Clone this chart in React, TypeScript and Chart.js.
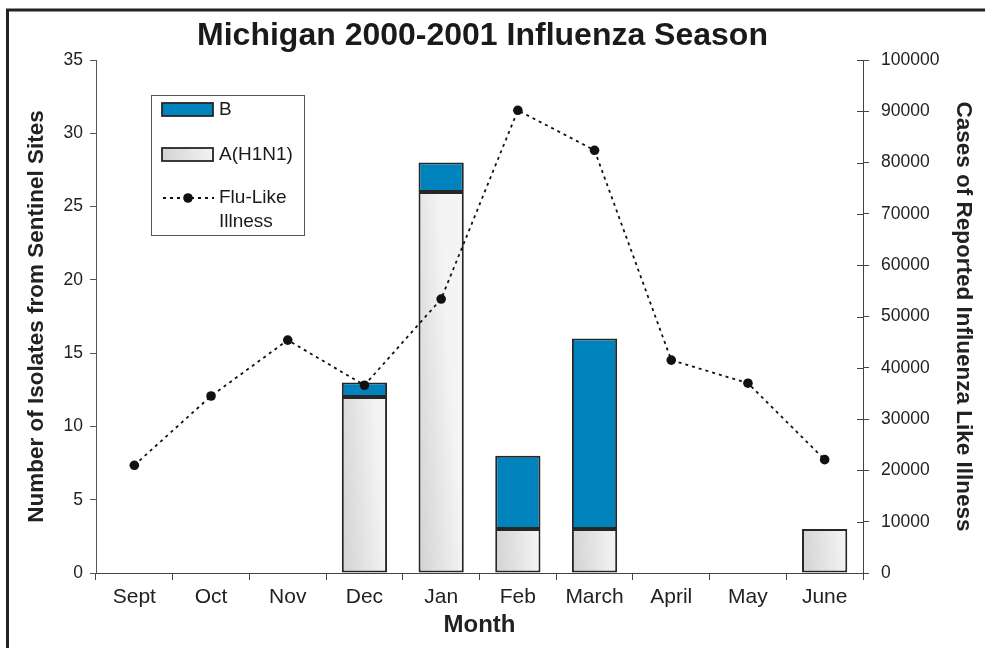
import React, { useEffect, useRef } from "react";
import { Chart, registerables } from "chart.js";

Chart.register(...registerables);

const months = ["Sept", "Oct", "Nov", "Dec", "Jan", "Feb", "March", "April", "May", "June"];
const aH1N1 = [0, 0, 0, 12, 26, 3, 3, 0, 0, 3];
const typeB = [0, 0, 0, 1, 2, 5, 13, 0, 0, 0];
const fluLike = [21000, 34500, 45400, 36600, 53400, 90200, 82400, 41500, 37000, 22100];

const TITLE = "Michigan 2000-2001 Influenza Season";
const FAMILY = "'Liberation Sans', Arial, Helvetica, sans-serif";
const BLUE = "#0083bd";
const EDGE = "#262626";

function grayGradient(ctx: CanvasRenderingContext2D, x0: number, y0: number, x1: number, y1: number) {
  const g = ctx.createLinearGradient(x0, y0, x1, y1);
  g.addColorStop(0, "#d2d2d2");
  g.addColorStop(0.45, "#e1e1e1");
  g.addColorStop(1, "#f4f4f4");
  return g;
}

const framePlugin = {
  id: "frame",
  beforeDraw(chart: any) {
    const ctx = chart.ctx;
    ctx.save();
    ctx.fillStyle = "#ffffff";
    ctx.fillRect(0, 0, chart.width, chart.height);
    ctx.strokeStyle = "#222";
    ctx.lineWidth = 3;
    ctx.beginPath();
    ctx.moveTo(7.5, chart.height);
    ctx.lineTo(7.5, 10);
    ctx.lineTo(chart.width, 10);
    ctx.stroke();
    ctx.fillStyle = "#1a1a1a";
    ctx.font = `bold 32px ${FAMILY}`;
    ctx.textAlign = "center";
    ctx.textBaseline = "middle";
    ctx.fillText(TITLE, 482.5, 36);
    ctx.restore();
  },
};

const extrasPlugin = {
  id: "extras",
  afterDraw(chart: any) {
    const ctx = chart.ctx;
    const y1 = chart.scales.y1;
    ctx.save();
    // inner ticks on right axis
    ctx.strokeStyle = "#444";
    ctx.lineWidth = 1;
    y1.ticks.forEach((t: any) => {
      const py = Math.round(y1.getPixelForValue(t.value)) + 0.5;
      ctx.beginPath();
      ctx.moveTo(y1.left - 6, py);
      ctx.lineTo(y1.left, py);
      ctx.stroke();
    });
    // legend
    const lx = 151.5, ly = 95.5, lw = 153, lh = 140;
    ctx.fillStyle = "#fff";
    ctx.fillRect(lx, ly, lw, lh);
    ctx.strokeStyle = "#555";
    ctx.lineWidth = 1;
    ctx.strokeRect(lx, ly, lw, lh);

    ctx.fillStyle = BLUE;
    ctx.fillRect(162, 103, 51, 13);
    ctx.strokeStyle = EDGE;
    ctx.lineWidth = 1.8;
    ctx.strokeRect(162, 103, 51, 13);

    ctx.fillStyle = grayGradient(ctx, 162, 160, 213, 150);
    ctx.fillRect(162, 148, 51, 13);
    ctx.strokeRect(162, 148, 51, 13);

    ctx.strokeStyle = "#111";
    ctx.lineWidth = 1.8;
    ctx.setLineDash([3, 4]);
    ctx.beginPath();
    ctx.moveTo(163, 198);
    ctx.lineTo(214, 198);
    ctx.stroke();
    ctx.setLineDash([]);
    ctx.fillStyle = "#111";
    ctx.beginPath();
    ctx.arc(188, 198, 4.8, 0, Math.PI * 2);
    ctx.fill();

    ctx.fillStyle = "#1a1a1a";
    ctx.font = `19px ${FAMILY}`;
    ctx.textAlign = "left";
    ctx.textBaseline = "middle";
    ctx.fillText("B", 219, 110);
    ctx.fillText("A(H1N1)", 219, 155);
    ctx.fillText("Flu-Like", 219, 198);
    ctx.fillText("Illness", 219, 222);
    ctx.restore();
  },
};

export default function App() {
  const ref = useRef<HTMLCanvasElement | null>(null);

  useEffect(() => {
    if (!ref.current) return;
    Chart.defaults.font.family = FAMILY;
    const chart = new Chart(ref.current, {
      type: "bar",
      data: {
        labels: months,
        datasets: [
          {
            type: "line",
            label: "Flu-Like Illness",
            data: fluLike,
            yAxisID: "y1",
            borderColor: "#111",
            borderWidth: 1.8,
            borderDash: [3, 4],
            pointRadius: 4.8,
            pointBackgroundColor: "#111",
            pointBorderWidth: 0,
            tension: 0,
            fill: false,
            order: 0,
          } as any,
          {
            type: "bar",
            label: "A(H1N1)",
            data: aH1N1,
            yAxisID: "y",
            stack: "s",
            order: 1,
            backgroundColor: (c: any) => {
              const chart = c.chart;
              const xs = chart.scales?.x;
              const ys = chart.scales?.y;
              if (!xs || !ys || c.type !== "data") return "#e2e2e2";
              const cx = xs.getPixelForValue(c.dataIndex);
              const half = 23;
              const bot = ys.getPixelForValue(0);
              if (!isFinite(cx) || !isFinite(bot)) return "#e2e2e2";
              return grayGradient(chart.ctx, cx - half, bot, cx + half, bot - 3);
            },
            borderColor: EDGE,
            borderWidth: 2,
            borderSkipped: false,
            barPercentage: 0.59,
            categoryPercentage: 1,
          },
          {
            type: "bar",
            label: "B",
            data: typeB,
            yAxisID: "y",
            stack: "s",
            order: 1,
            backgroundColor: BLUE,
            borderColor: EDGE,
            borderWidth: 2,
            borderSkipped: false,
            barPercentage: 0.59,
            categoryPercentage: 1,
          },
        ],
      },
      options: {
        responsive: false,
        animation: false,
        devicePixelRatio: 1,
        layout: { padding: { top: 60, left: 0, right: 0, bottom: 0 } },
        plugins: {
          legend: { display: false },
          tooltip: { enabled: false },
          title: { display: false },
        },
        scales: {
          x: {
            stacked: true,
            offset: true,
            grid: {
              display: true,
              drawOnChartArea: false,
              drawTicks: true,
              tickLength: 7,
              color: "#444",
              offset: true,
            },
            border: { display: true, color: "#444", width: 1 },
            ticks: {
              font: { size: 21, family: FAMILY },
              color: "#222",
              padding: 5,
              maxRotation: 0,
              autoSkip: false,
            },
            title: {
              display: true,
              text: "Month",
              color: "#222",
              font: { size: 24, weight: "bold", family: FAMILY },
              padding: { top: 0, bottom: 8 },
            },
            afterFit: (s: any) => {
              s.height = 75;
            },
          },
          y: {
            position: "left",
            stacked: true,
            min: 0,
            max: 35,
            ticks: {
              stepSize: 5,
              font: { size: 17.5, family: FAMILY },
              color: "#222",
              padding: 7,
            },
            grid: { drawOnChartArea: false, tickLength: 6, color: "#555" },
            border: { display: true, color: "#555", width: 1 },
            title: {
              display: true,
              text: "Number of Isolates from Sentinel Sites",
              color: "#222",
              font: { size: 22.5, weight: "bold", family: FAMILY },
              padding: { top: 23.5, bottom: 0 },
            },
            afterFit: (s: any) => {
              s.width = 96;
            },
          },
          y1: {
            position: "right",
            min: 0,
            max: 100000,
            ticks: {
              stepSize: 10000,
              font: { size: 17.5, family: FAMILY },
              color: "#222",
              padding: 12,
              callback: (v: any) => String(v),
            },
            grid: { drawOnChartArea: false, tickLength: 6, color: "#444" },
            border: { display: true, color: "#444", width: 1 },
            title: {
              display: true,
              text: "Cases of Reported Influenza Like Illness",
              color: "#222",
              font: { size: 22.5, weight: "bold", family: FAMILY },
              padding: { top: 8.5, bottom: 0 },
            },
            afterFit: (s: any) => {
              s.width = 122;
            },
          },
        },
      } as any,
      plugins: [framePlugin, extrasPlugin],
    });
    return () => chart.destroy();
  }, []);

  return (
    <div style={{ position: "fixed", left: 0, top: 0, width: 985, height: 648, background: "#fff" }}>
      <canvas ref={ref} width={985} height={648} style={{ display: "block", width: 985, height: 648 }} />
    </div>
  );
}
